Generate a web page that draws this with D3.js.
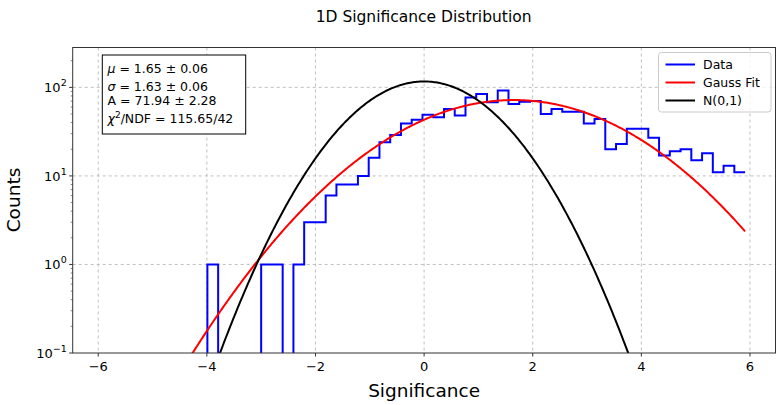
<!DOCTYPE html>
<html><head><meta charset="utf-8">
<script src="https://cdn.jsdelivr.net/npm/d3@7"></script>
<style>body{margin:0;background:#fff} svg{display:block} text{font-family:"DejaVu Sans",sans-serif;fill:#000}</style>
</head><body><svg id="c" width="776" height="405"></svg>
<script>
// ---- data ----
const histMin = -3.99, histMax = 5.91;
const counts = [1,0,0,0,0,1,1,0,1,3,
                3,6,8,8,10,16,24,29,39,43,
                49,46,57,48,77,84,68,92,65,69,
                70,50,57,53,53,39,44,20,23,34,
                34,27,17,19,20,15,18,11,13,11];
const xTicks = [-6,-4,-2,0,2,4,6];
const yTicks = [0.1,1,10,100];
const yTickExp = ["−1","0","1","2"];
const fitMu = 1.65, fitSigma = 1.63, fitA = 71.94;
const legendLabels = ["Data","Gauss Fit","N(0,1)"];
const legendColors = ["#0000ff","#ff0000","#000000"];

// ---- layout ----
const svg = d3.select("#c");
const L = 72.7, R = 775.5, T = 47.5, B = 353;
const x = d3.scaleLinear().domain([-6.47, 6.47]).range([L, R]);
const y = d3.scaleLog().domain([0.1, 282]).range([B, T]);

const nb = counts.length;
const bw = (histMax - histMin) / nb;
const edges = d3.range(nb + 1).map(i => histMin + i * bw);
const total = d3.sum(counts);
const normPeak = total * bw / Math.sqrt(2 * Math.PI);

svg.append("defs").append("clipPath").attr("id","clip")
  .append("rect").attr("x",L).attr("y",T).attr("width",R-L).attr("height",B-T);

// grid
const g = svg.append("g");
xTicks.forEach(t => g.append("line").attr("x1",x(t)).attr("x2",x(t)).attr("y1",T).attr("y2",B)
  .attr("stroke","#b0b0b0").attr("stroke-width",0.8).attr("stroke-dasharray","3,3"));
[1,10,100].forEach(t => g.append("line").attr("x1",L).attr("x2",R).attr("y1",y(t)).attr("y2",y(t))
  .attr("stroke","#b0b0b0").attr("stroke-width",0.8).attr("stroke-dasharray","3,3"));

const plot = svg.append("g").attr("clip-path","url(#clip)");

// histogram step
const pts = [[edges[0], 1e-4]];
counts.forEach((c,i) => { const v = c > 0 ? c : 1e-4; pts.push([edges[i], v]); pts.push([edges[i+1], v]); });
plot.append("path").attr("d", d3.line().x(d=>x(d[0])).y(d=>y(d[1]))(pts))
  .attr("fill","none").attr("stroke","#0000ff").attr("stroke-width",2);

// curves
const xs = d3.range(0, 501).map(i => -6.47 + i * (histMax + 6.47) / 500);
const fit = xs.map(v => [v, fitA * Math.exp(-((v - fitMu) ** 2) / (2 * fitSigma ** 2))]);
const norm = xs.map(v => [v, normPeak * Math.exp(-v * v / 2)]);
const cl = d3.line().x(d=>x(d[0])).y(d=>y(Math.max(d[1],1e-4)));
plot.append("path").attr("d", cl(fit)).attr("fill","none").attr("stroke","#ff0000").attr("stroke-width",2);
plot.append("path").attr("d", cl(norm)).attr("fill","none").attr("stroke","#000000").attr("stroke-width",2);

// frame
svg.append("rect").attr("x",L).attr("y",T).attr("width",R-L).attr("height",B-T)
  .attr("fill","none").attr("stroke","#333").attr("stroke-width",1);

// x ticks
xTicks.forEach(t => {
  svg.append("line").attr("x1",x(t)).attr("x2",x(t)).attr("y1",B).attr("y2",B+3.5).attr("stroke","#333");
  svg.append("text").attr("x",x(t)).attr("y",B+18).attr("text-anchor","middle").attr("font-size",13)
    .text(t < 0 ? "−" + Math.abs(t) : String(t));
});
// y ticks
yTicks.forEach((t,i) => {
  svg.append("line").attr("x1",L-3.5).attr("x2",L).attr("y1",y(t)).attr("y2",y(t)).attr("stroke","#333");
  const tx = svg.append("text").attr("x",L-6).attr("y",y(t)+5).attr("text-anchor","end").attr("font-size",13);
  tx.append("tspan").text("10");
  tx.append("tspan").attr("dy",-6).attr("font-size",9.5).text(yTickExp[i]);
});
// minor y ticks
[0.1,1,10,100].forEach(d => { for (let k=2;k<=9;k++){ const v=d*k; if (v<282) 
  svg.append("line").attr("x1",L-2).attr("x2",L).attr("y1",y(v)).attr("y2",y(v)).attr("stroke","#333").attr("stroke-width",0.6);} });

// labels
svg.append("text").attr("x",(L+R)/2 - 0.5).attr("y",22).attr("text-anchor","middle").attr("font-size",15.5).text("1D Significance Distribution");
svg.append("text").attr("x",x(0)).attr("y",397).attr("text-anchor","middle").attr("font-size",18.5).text("Significance");
svg.append("text").attr("transform","translate(20,200) rotate(-90)").attr("text-anchor","middle").attr("font-size",18.5).text("Counts");

// stats box
svg.append("rect").attr("x",102.3).attr("y",55).attr("width",143.4).attr("height",79)
  .attr("fill","#fff").attr("stroke","#000").attr("stroke-width",1);
const sx = 107.5, fs = 12.5;
let t1 = svg.append("text").attr("x",sx).attr("y",73).attr("font-size",fs);
t1.append("tspan").attr("font-style","italic").text("μ"); t1.append("tspan").text(" = 1.65 ± 0.06");
let t2 = svg.append("text").attr("x",sx).attr("y",91).attr("font-size",fs);
t2.append("tspan").attr("font-style","italic").text("σ"); t2.append("tspan").text(" = 1.63 ± 0.06");
svg.append("text").attr("x",sx).attr("y",105).attr("font-size",fs).text("A = 71.94 ± 2.28");
let t4 = svg.append("text").attr("x",sx).attr("y",123).attr("font-size",fs);
t4.append("tspan").attr("font-style","italic").text("χ");
t4.append("tspan").attr("dy",-5).attr("font-size",9).text("2");
t4.append("tspan").attr("dy",5).text("/NDF = 115.65/42");

// legend
svg.append("rect").attr("x",658.5).attr("y",52.5).attr("width",112.5).attr("height",59.5).attr("rx",3)
  .attr("fill","#fff").attr("fill-opacity",0.8).attr("stroke","#cccccc");
legendLabels.forEach((lab,i) => {
  const yy = 64.5 + i * 18;
  svg.append("line").attr("x1",665.5).attr("x2",695).attr("y1",yy).attr("y2",yy).attr("stroke",legendColors[i]).attr("stroke-width",2);
  svg.append("text").attr("x",703).attr("y",yy+4.5).attr("font-size",12.5).text(lab);
});
</script></body></html>
